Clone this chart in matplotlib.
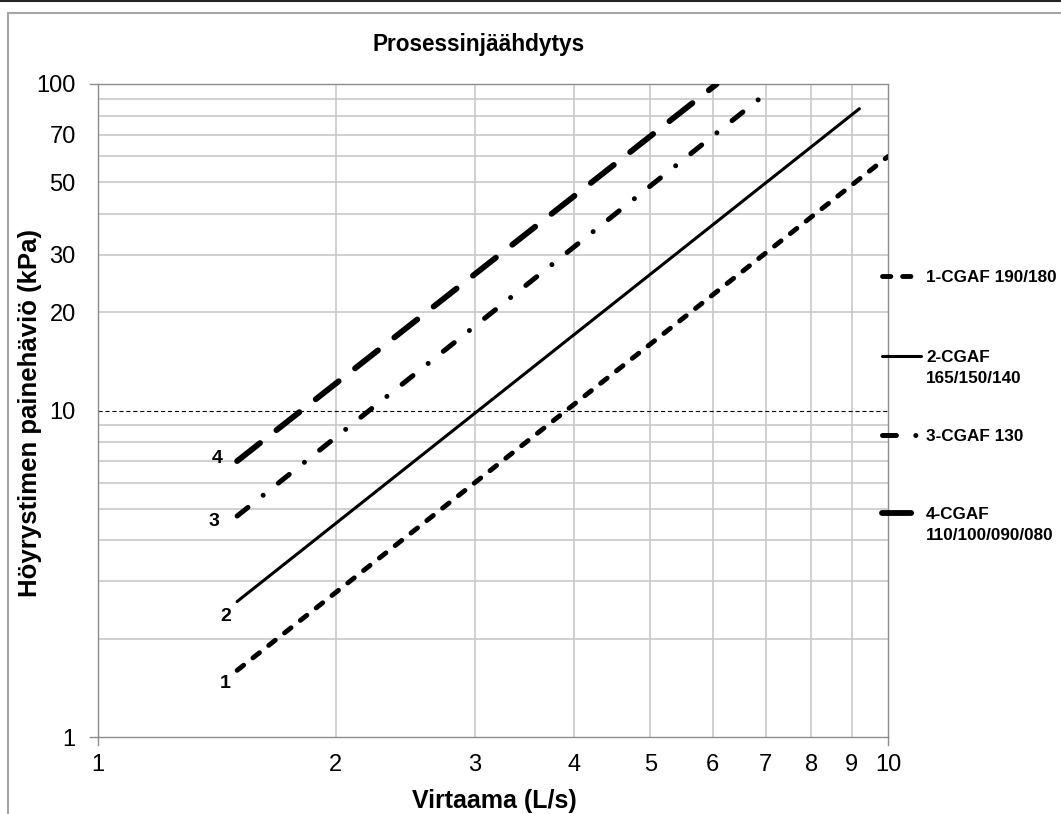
import numpy as np
import matplotlib
matplotlib.use("Agg")
import matplotlib.pyplot as plt
from matplotlib.lines import Line2D
from matplotlib.patches import Rectangle
from matplotlib.ticker import FixedLocator, NullFormatter

plt.rcParams['font.family'] = ['Liberation Sans', 'DejaVu Sans']
plt.rcParams['lines.scale_dashes'] = False

# flow (L/s) and pressure drop (kPa) at the ends of each line
flow_1 = [1.5, 10.0]
drop_1 = [1.6, 60.0]
flow_2 = [1.5, 9.2]
drop_2 = [2.6, 84.0]
flow_3 = [1.5, 6.95]
drop_3 = [4.75, 92.0]
flow_4 = [1.5, 6.07]
drop_4 = [7.0, 100.0]

line_numbers = ["1", "2", "3", "4"]
legend_labels = ["1-CGAF 190/180", "2-CGAF\n165/150/140", "3-CGAF 130",
                 "4-CGAF\n110/100/090/080"]

x_ticks = [1, 2, 3, 4, 5, 6, 7, 8, 9, 10]
y_ticks = [1, 10, 20, 30, 50, 70, 100]
y_grid = [2, 3, 4, 5, 6, 7, 8, 9, 20, 30, 40, 50, 60, 70, 80, 90]

W, H = 1061, 814
fig = plt.figure(figsize=(W / 100, H / 100), dpi=100)
ax = fig.add_axes([98 / W, 1 - 737 / H, 790 / W, 653 / H])

# outer chart frame
fig.add_artist(Rectangle((8 / W, -0.1), 1.2, 1 - 13 / H + 0.1, transform=fig.transFigure,
                         fill=False, edgecolor='#a6a6a6', lw=1.5))
fig.add_artist(Line2D([0, 1], [1 - 1 / H, 1 - 1 / H], transform=fig.transFigure,
                      color='#222222', lw=1.5))

styles = [
    dict(lw=3.5, dashes=(6.0, 8.5), dash_capstyle='round'),
    dict(lw=2.2, linestyle='-', solid_capstyle='round'),
    dict(lw=3.6, dashes=(10.0, 14.0, 0.01, 14.0), dash_capstyle='round'),
    dict(lw=4.2, dashes=(21.0, 15.0), dash_capstyle='round'),
]
series = [(flow_1, drop_1), (flow_2, drop_2), (flow_3, drop_3), (flow_4, drop_4)]
num_offsets = [(-8.6, -9.4), (-8, -11), (-16.5, -3.6), (-14, 2)]

for (fx, dy), st in zip(series, styles):
    ax.plot(fx, dy, color='black', zorder=3, **st)

# number labels at the start of each line
for (fx, dy), num, off in zip(series, line_numbers, num_offsets):
    ax.annotate(num, (fx[0], dy[0]), xytext=off, textcoords='offset points',
                ha='center', va='center', fontsize=14, fontweight='bold')

ax.set_xscale('log')
ax.set_yscale('log')
ax.set_xlim(1, 10)
ax.set_ylim(1, 100)

ax.xaxis.set_major_locator(FixedLocator(x_ticks))
ax.xaxis.set_minor_formatter(NullFormatter())
ax.set_xticklabels([str(t) for t in x_ticks])
ax.yaxis.set_major_locator(FixedLocator(y_ticks))
ax.yaxis.set_minor_locator(FixedLocator(y_grid))
ax.yaxis.set_minor_formatter(NullFormatter())
ax.set_yticklabels([str(t) for t in y_ticks])

ax.tick_params(axis='both', which='major', labelsize=17, length=0)
ax.tick_params(axis='both', which='minor', length=0)
ax.tick_params(axis='y', pad=16)
ax.tick_params(axis='x', pad=12)

for v in x_ticks[1:-1]:
    ax.axvline(v, color='#c8c8c8', lw=1.2, zorder=1)
for v in y_grid:
    ax.axhline(v, color='#c8c8c8', lw=1.2, zorder=1)
ax.axhline(10, color='black', lw=0.8, dashes=(3, 2), zorder=2)

for side in ['left', 'right', 'top', 'bottom']:
    ax.spines[side].set_color('#8c8c8c')
    ax.spines[side].set_linewidth(1.0)
    ax.spines[side].set_linestyle((0, (2, 1)))

# small end ticks at the decades
for xv in [0, 1]:
    fig.add_artist(Line2D([(98 + 790 * xv) / W] * 2, [1 - 737 / H, 1 - 745 / H],
                          transform=fig.transFigure, color='#8c8c8c', lw=1))
for yv in [737, 84]:
    fig.add_artist(Line2D([90 / W, 98 / W], [1 - yv / H] * 2,
                          transform=fig.transFigure, color='#8c8c8c', lw=1))

fig.text(479 / W, 1 - 44 / H, "Prosessinjäähdytys", ha='center', va='center',
         fontsize=16.3, fontweight='bold')
fig.text(494 / W, 1 - 801 / H, "Virtaama (L/s)", ha='center', va='center',
         fontsize=18, fontweight='bold')
fig.text(30 / W, 1 - 413 / H, "Höyrystimen painehäviö (kPa)", ha='center', va='center',
         rotation=90, fontsize=18.5, fontweight='bold')

# legend drawn by hand at the right side, handle level with the first text line
leg_y = [276, 356, 435, 513]
for st, lab, yy in zip(styles, legend_labels, leg_y):
    fig.add_artist(Line2D([882 / W, 921 / W], [1 - yy / H] * 2, transform=fig.transFigure,
                          color='black', **st))
    for i, part in enumerate(lab.split("\n")):
        fig.text(926 / W, 1 - (yy + 6 + 21 * i) / H, part, ha='left', va='baseline',
                 fontsize=12.3, fontweight='bold')

fig.savefig("out.png", dpi=100)
